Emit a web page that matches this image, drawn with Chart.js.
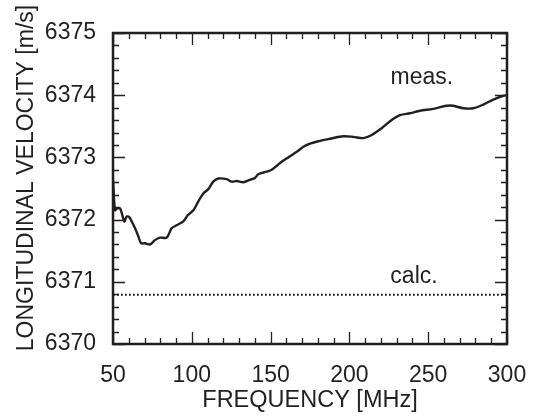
<!DOCTYPE html>
<html>
<head>
<meta charset="utf-8">
<script src="https://cdn.jsdelivr.net/npm/chart.js@4.4.1/dist/chart.umd.min.js"></script>
<style>
  html, body { margin: 0; padding: 0; background: #fff; }
  #wrap { width: 536px; height: 416px; }
</style>
</head>
<body>
<div id="wrap"><canvas id="myChart"></canvas></div>
<script>
const freqMHz = [50, 51.3, 52.7, 54.4, 55.5, 57.2, 58.7, 60.3, 61.9, 64.0, 66.1, 67.8, 70.3, 73.5, 76.6,
  79.8, 84.1, 87.2, 90.4, 94.6, 97.4, 101.0, 104.1, 107.3, 110.5, 113.6, 116.8, 122.1, 125.3, 128.5,
  132.7, 136.9, 140.1, 142.2, 147.5, 150.7, 156.0, 161.2, 166.6, 170.8, 175.0, 180.3, 187.7, 196.1,
  202.5, 208.8, 214.2, 220.5, 226.8, 232.1, 238.5, 244.8, 253.2, 261.7, 265.9, 272.3, 278.6, 285.0,
  291.3, 297.6, 300];
const measVelocity = [6372.64, 6372.15, 6372.18, 6372.18, 6372.11, 6371.97, 6372.05, 6372.04, 6371.97,
  6371.86, 6371.73, 6371.62, 6371.62, 6371.60, 6371.67, 6371.71, 6371.71, 6371.86, 6371.91, 6371.97,
  6372.07, 6372.15, 6372.29, 6372.42, 6372.49, 6372.61, 6372.66, 6372.65, 6372.61, 6372.62, 6372.60,
  6372.64, 6372.67, 6372.73, 6372.77, 6372.80, 6372.91, 6373.00, 6373.09, 6373.17, 6373.22, 6373.26,
  6373.30, 6373.34, 6373.33, 6373.31, 6373.36, 6373.47, 6373.60, 6373.68, 6373.71, 6373.75, 6373.78,
  6373.83, 6373.83, 6373.79, 6373.79, 6373.85, 6373.93, 6373.99, 6374.00];

// calculated value (flat)
const calcFreq = [50, 300];
const calcVelocity = [6370.79, 6370.79];

const xTickLabels = [50, 100, 150, 200, 250, 300];
const yTickLabels = [6370, 6371, 6372, 6373, 6374, 6375];

const notes = [
  { text: 'meas.', x: 246, y: 6374.28 },
  { text: 'calc.', x: 241, y: 6371.08 }
];

const ink = '#231f20';
const fontFamily = '"Liberation Sans", Arial, Helvetica, sans-serif';

// frame + inward ticks on all four sides, notes and the y title
const frameTicks = {
  id: 'frameTicks',
  afterDatasetsDraw(chart) {
    const ctx = chart.ctx;
    const a = chart.chartArea;
    const x = chart.scales.x;
    const y = chart.scales.y;
    ctx.save();
    ctx.strokeStyle = ink;
    ctx.lineWidth = 1.3;
    ctx.beginPath();
    for (let f = 50; f <= 300; f += 10) {
      let px = Math.round(x.getPixelForValue(f)) + 0.5;
      let len = (f % 50 === 0) ? 12 : 6;
      ctx.moveTo(px, a.bottom); ctx.lineTo(px, a.bottom - len);
      ctx.moveTo(px, a.top); ctx.lineTo(px, a.top + len);
    }
    for (let k = 0; k <= 25; k++) {
      let v = 6370 + k * 0.2;
      let py = Math.round(y.getPixelForValue(v)) + 0.5;
      let len = (k % 5 === 0) ? 12 : 6;
      ctx.moveTo(a.left, py); ctx.lineTo(a.left + len, py);
      ctx.moveTo(a.right, py); ctx.lineTo(a.right - len, py);
    }
    ctx.stroke();
    ctx.lineWidth = 2.5;
    ctx.strokeRect(a.left, a.top, a.right - a.left, a.bottom - a.top);

    ctx.fillStyle = ink;
    ctx.font = '23px ' + fontFamily;
    ctx.textAlign = 'center';
    ctx.textBaseline = 'middle';
    notes.forEach(n => {
      ctx.fillText(n.text, x.getPixelForValue(n.x), y.getPixelForValue(n.y));
    });

    // y axis title sits a little above the centre of the axis in the original
    ctx.translate(27, 178);
    ctx.rotate(-Math.PI / 2);
    ctx.fillText('LONGITUDINAL VELOCITY [m/s]', 0, 0);
    ctx.restore();
  }
};

const measPoints = freqMHz.map((f, i) => ({ x: f, y: measVelocity[i] }));
const calcPoints = calcFreq.map((f, i) => ({ x: f, y: calcVelocity[i] }));

new Chart(document.getElementById('myChart'), {
  type: 'line',
  data: {
    datasets: [
      {
        label: 'meas.',
        data: measPoints,
        borderColor: ink,
        borderWidth: 2.4,
        pointRadius: 0,
        tension: 0.3,
        fill: false
      },
      {
        label: 'calc.',
        data: calcPoints,
        borderColor: ink,
        borderWidth: 2,
        borderDash: [1.8, 2.2],
        pointRadius: 0,
        fill: false
      }
    ]
  },
  options: {
    responsive: true,
    maintainAspectRatio: false,
    animation: false,
    layout: { padding: { left: 0, top: 33, right: 29, bottom: 0 } },
    plugins: {
      legend: { display: false },
      tooltip: { enabled: false }
    },
    scales: {
      x: {
        type: 'linear',
        min: 50,
        max: 300,
        afterFit(scale) {
          scale.height = 72;
          scale.paddingLeft = 0;
          scale.paddingRight = 0;
        },
        afterBuildTicks(scale) { scale.ticks = xTickLabels.map(v => ({ value: v })); },
        grid: { display: false },
        border: { display: false },
        ticks: {
          color: ink,
          padding: 10,
          maxRotation: 0,
          font: { family: fontFamily, size: 23 }
        },
        title: {
          display: true,
          text: 'FREQUENCY [MHz]',
          color: ink,
          padding: { top: 0, bottom: 1 },
          font: { family: fontFamily, size: 23.5 }
        }
      },
      y: {
        type: 'linear',
        min: 6370,
        max: 6375,
        afterFit(scale) {
          scale.width = 113;
          scale.paddingTop = 0;
          scale.paddingBottom = 0;
        },
        afterBuildTicks(scale) { scale.ticks = yTickLabels.map(v => ({ value: v })); },
        grid: { display: false },
        border: { display: false },
        ticks: {
          color: ink,
          padding: 9,
          callback: v => String(v),
          font: { family: fontFamily, size: 23 }
        }
      }
    }
  },
  plugins: [frameTicks]
});
</script>
</body>
</html>
